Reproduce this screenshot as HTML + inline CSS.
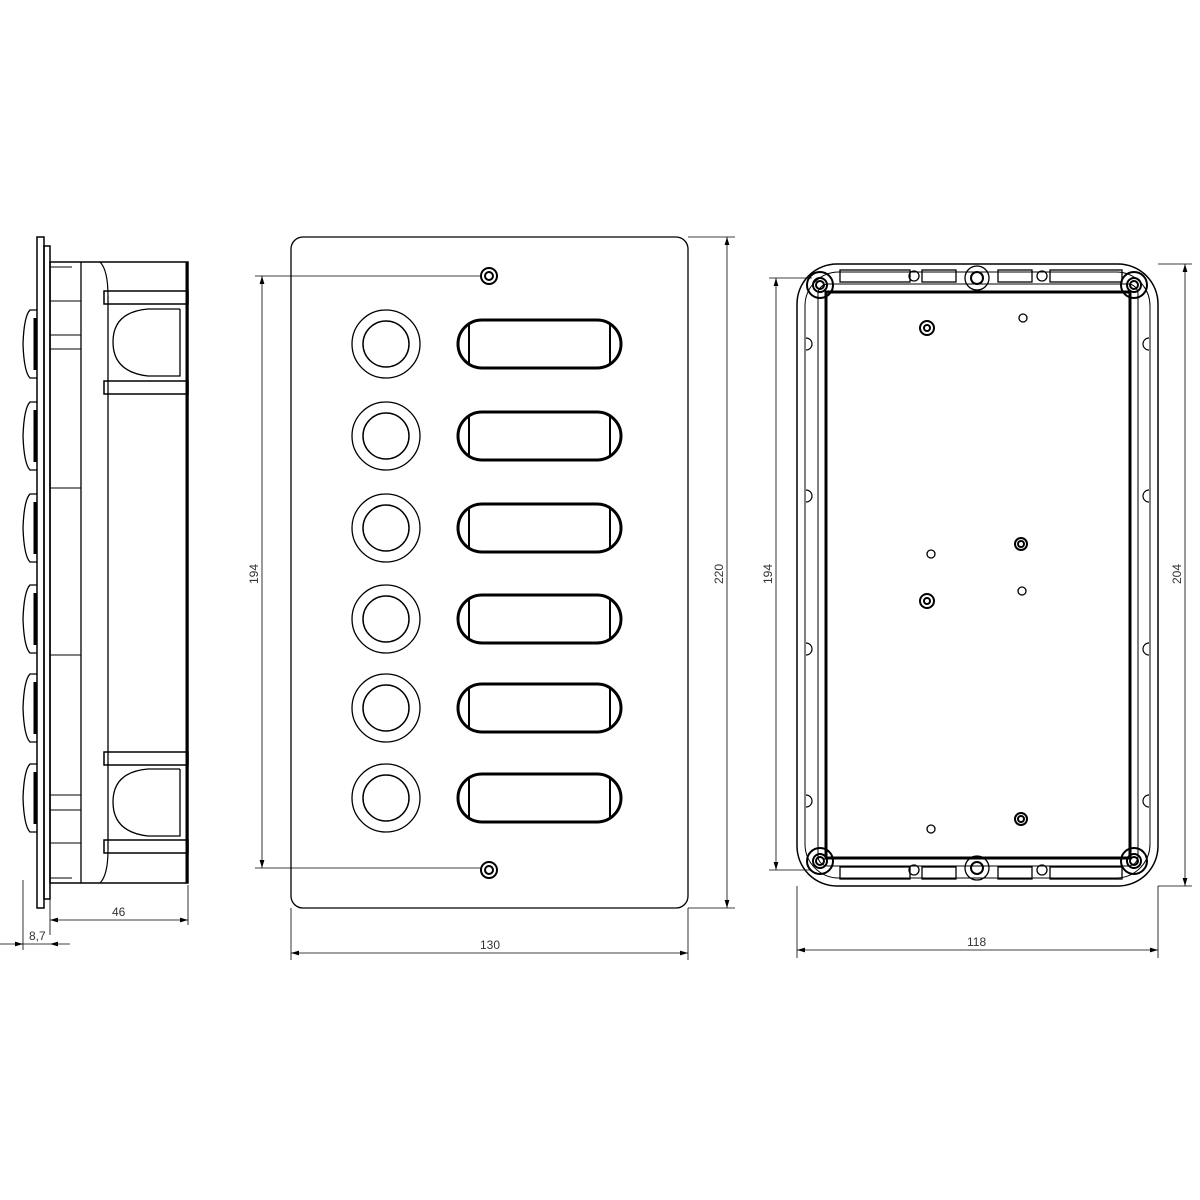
<!DOCTYPE html><html><head><style>body{margin:0;background:#fff}svg{display:block}text{font-family:"Liberation Sans",sans-serif;font-size:12px;fill:#333}</style></head><body>
<svg width="1200" height="1200" viewBox="0 0 1200 1200" xmlns="http://www.w3.org/2000/svg">
<defs>
<marker id="a" viewBox="0 0 10 6" refX="10" refY="3" markerWidth="10" markerHeight="6" orient="auto-start-reverse"><path d="M0,0L10,3L0,6z" fill="#000"/></marker>
<g id="btn"><circle r="34" fill="none" stroke="#000" stroke-width="1.3"/><circle r="23" fill="none" stroke="#000" stroke-width="1.5"/></g>
<g id="slot"><rect x="0" y="-24" width="163" height="48" rx="24" fill="none" stroke="#000" stroke-width="3"/><line x1="11" y1="-20" x2="11" y2="20" stroke="#000" stroke-width="2"/><line x1="152" y1="-20" x2="152" y2="20" stroke="#000" stroke-width="2"/></g>
<g id="bulge"><path d="M37,-34 L30,-34 Q24,-28 23,0 Q24,28 30,34 L37,34" fill="none" stroke="#000" stroke-width="1.3"/><line x1="35" y1="-26" x2="35" y2="26" stroke="#000" stroke-width="3"/></g>
</defs>
<g stroke="#000" fill="none">
<!-- LEFT SIDE VIEW -->
<rect x="37" y="237" width="7" height="671" stroke-width="1.5"/>
<rect x="44" y="246" width="6" height="653" stroke-width="1.5"/>
<rect x="50" y="262" width="138" height="621" stroke-width="1.5"/>
<line x1="187" y1="262" x2="187" y2="883" stroke-width="3"/>
<line x1="81" y1="262" x2="81" y2="883" stroke-width="1.3"/>
<line x1="108" y1="296" x2="108" y2="850" stroke-width="1.3"/>
<path d="M100,262 Q108,270 108,296" stroke-width="1.2"/>
<path d="M100,883 Q108,875 108,850" stroke-width="1.2"/>
<rect x="104" y="291" width="84" height="13" stroke-width="1.5"/>
<rect x="104" y="381" width="84" height="13" stroke-width="1.5"/>
<rect x="104" y="752" width="84" height="13" stroke-width="1.5"/>
<rect x="104" y="840" width="84" height="13" stroke-width="1.5"/>
<path d="M180,309 L148,309 Q113,312 113,342 Q113,372 148,376 L180,376 L180,309" stroke-width="1.3"/>
<path d="M180,769 L148,769 Q113,772 113,802 Q113,832 148,836 L180,836 L180,769" stroke-width="1.3"/>
<line x1="50" y1="267" x2="72" y2="267"/><line x1="50" y1="301" x2="81" y2="301"/><line x1="50" y1="335" x2="81" y2="335"/><line x1="50" y1="349" x2="81" y2="349"/>
<line x1="50" y1="795" x2="81" y2="795"/><line x1="50" y1="810" x2="81" y2="810"/><line x1="50" y1="843" x2="81" y2="843"/><line x1="50" y1="878" x2="72" y2="878"/>
<line x1="50" y1="488" x2="81" y2="488"/><line x1="50" y1="655" x2="81" y2="655"/>
<use href="#bulge" x="0" y="344"/><use href="#bulge" x="0" y="436"/><use href="#bulge" x="0" y="528"/><use href="#bulge" x="0" y="619"/><use href="#bulge" x="0" y="708"/><use href="#bulge" x="0" y="798"/>
<!-- dims left -->
<g stroke-width="0.8">
<line x1="50" y1="899" x2="50" y2="935"/><line x1="188" y1="885" x2="188" y2="925"/>
<line x1="50" y1="920" x2="188" y2="920" marker-start="url(#a)" marker-end="url(#a)"/>
<line x1="23" y1="880" x2="23" y2="950"/>
<line x1="0" y1="944" x2="23" y2="944" marker-end="url(#a)"/><line x1="70" y1="944" x2="50" y2="944" marker-end="url(#a)"/>
<line x1="23" y1="944" x2="50" y2="944"/>
</g>
<!-- FRONT PLATE -->
<rect x="291" y="237" width="397" height="671" rx="12" stroke-width="1.3"/>
<circle cx="489" cy="276" r="8" stroke-width="2"/><circle cx="489" cy="276" r="4" stroke-width="2"/>
<circle cx="489" cy="870" r="8" stroke-width="2"/><circle cx="489" cy="870" r="4" stroke-width="2"/>
<use href="#btn" x="386" y="344"/><use href="#btn" x="386" y="436"/><use href="#btn" x="386" y="528"/><use href="#btn" x="386" y="619"/><use href="#btn" x="386" y="708"/><use href="#btn" x="386" y="798"/>
<use href="#slot" x="458" y="344"/><use href="#slot" x="458" y="436"/><use href="#slot" x="458" y="528"/><use href="#slot" x="458" y="619"/><use href="#slot" x="458" y="708"/><use href="#slot" x="458" y="798"/>
<g stroke-width="0.8">
<line x1="255" y1="276" x2="481" y2="276"/><line x1="255" y1="868" x2="481" y2="868"/>
<line x1="262" y1="276" x2="262" y2="868" marker-start="url(#a)" marker-end="url(#a)"/>
<line x1="688" y1="237" x2="735" y2="237"/><line x1="688" y1="908" x2="735" y2="908"/>
<line x1="727" y1="237" x2="727" y2="908" marker-start="url(#a)" marker-end="url(#a)"/>
<line x1="291" y1="908" x2="291" y2="960"/><line x1="688" y1="908" x2="688" y2="960"/>
<line x1="291" y1="953" x2="688" y2="953" marker-start="url(#a)" marker-end="url(#a)"/>
</g>
<!-- BACK BOX -->
<rect x="797" y="264" width="361" height="622" rx="40" stroke-width="1.5"/>
<rect x="805" y="272" width="345" height="606" rx="34" stroke-width="1"/>
<rect x="826" y="292" width="304" height="566" stroke-width="3"/>
<rect x="818" y="284" width="320" height="582" rx="10" stroke-width="1"/>
<g stroke-width="1.3">
<rect x="840" y="270" width="70" height="12"/><rect x="922" y="270" width="34" height="12"/><rect x="998" y="270" width="34" height="12"/><rect x="1050" y="270" width="72" height="12"/>
<rect x="840" y="867" width="70" height="12"/><rect x="922" y="867" width="34" height="12"/><rect x="998" y="867" width="34" height="12"/><rect x="1050" y="867" width="72" height="12"/>
<circle cx="914" cy="276" r="5"/><circle cx="1042" cy="276" r="5"/><circle cx="914" cy="870" r="5"/><circle cx="1042" cy="870" r="5"/>
<circle cx="977" cy="278" r="12"/><circle cx="977" cy="868" r="12"/>
</g>
<g stroke-width="2">
<circle cx="977" cy="278" r="6"/><circle cx="977" cy="868" r="6"/>
<circle cx="820" cy="285" r="13"/><circle cx="820" cy="285" r="7"/><circle cx="820" cy="285" r="4"/>
<circle cx="1134" cy="285" r="13"/><circle cx="1134" cy="285" r="7"/><circle cx="1134" cy="285" r="4"/>
<circle cx="820" cy="861" r="13"/><circle cx="820" cy="861" r="7"/><circle cx="820" cy="861" r="4"/>
<circle cx="1134" cy="861" r="13"/><circle cx="1134" cy="861" r="7"/><circle cx="1134" cy="861" r="4"/>
<circle cx="927" cy="328" r="7"/><circle cx="927" cy="328" r="3"/>
<circle cx="1021" cy="544" r="6"/><circle cx="1021" cy="544" r="3"/>
<circle cx="927" cy="601" r="7"/><circle cx="927" cy="601" r="3"/>
<circle cx="1021" cy="819" r="6"/><circle cx="1021" cy="819" r="3"/>
</g>
<g stroke-width="1.3"><circle cx="1023" cy="318" r="4"/><circle cx="931" cy="554" r="4"/><circle cx="1022" cy="591" r="4"/><circle cx="931" cy="829" r="4"/></g>
<g stroke-width="1.2">
<path d="M806,338 a6,6 0 0,1 0,12"/><path d="M806,490 a6,6 0 0,1 0,12"/><path d="M806,643 a6,6 0 0,1 0,12"/><path d="M806,795 a6,6 0 0,1 0,12"/>
<path d="M1149,338 a6,6 0 0,0 0,12"/><path d="M1149,490 a6,6 0 0,0 0,12"/><path d="M1149,643 a6,6 0 0,0 0,12"/><path d="M1149,795 a6,6 0 0,0 0,12"/>
</g>
<g stroke-width="0.8">
<line x1="1158" y1="264" x2="1192" y2="264"/><line x1="1158" y1="886" x2="1192" y2="886"/>
<line x1="1185" y1="264" x2="1185" y2="886" marker-start="url(#a)" marker-end="url(#a)"/>
<line x1="769" y1="278" x2="812" y2="278"/><line x1="769" y1="870" x2="812" y2="870"/>
<line x1="776" y1="278" x2="776" y2="870" marker-start="url(#a)" marker-end="url(#a)"/>
<line x1="797" y1="886" x2="797" y2="958"/><line x1="1158" y1="886" x2="1158" y2="958"/>
<line x1="797" y1="950" x2="1158" y2="950" marker-start="url(#a)" marker-end="url(#a)"/>
</g>
</g>
<text x="112" y="916">46</text>
<text x="29" y="940">8,7</text>
<text x="480" y="949">130</text>
<text x="967" y="946">118</text>
<text transform="translate(258,584) rotate(-90)">194</text>
<text transform="translate(723,584) rotate(-90)">220</text>
<text transform="translate(772,584) rotate(-90)">194</text>
<text transform="translate(1181,584) rotate(-90)">204</text>
</svg>
</body></html>
